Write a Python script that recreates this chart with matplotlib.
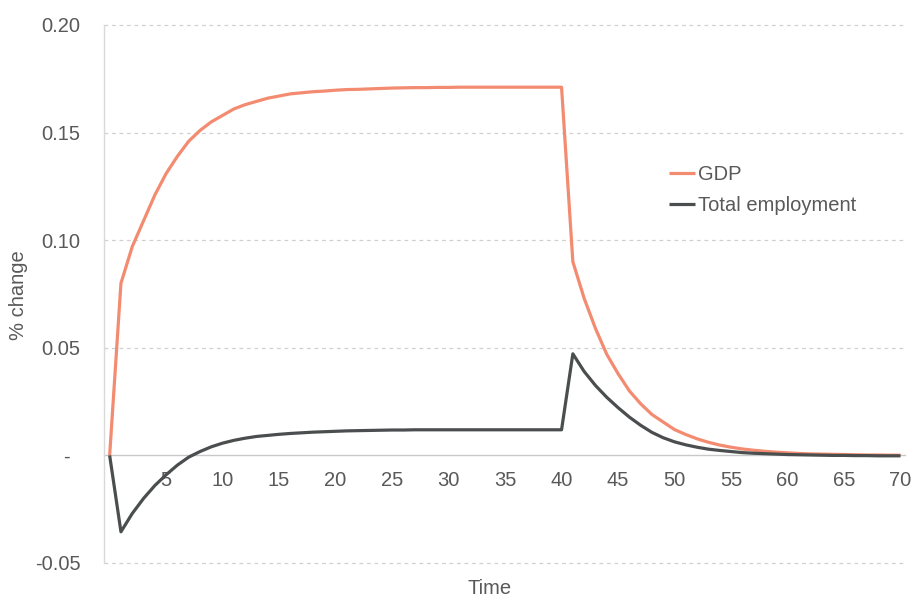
import matplotlib
matplotlib.use("Agg")
import matplotlib.pyplot as plt
import numpy as np

plt.rcParams['font.family'] = ['Liberation Sans', 'DejaVu Sans']

time = list(range(0, 71))

gdp = [0.0, 0.080, 0.097, 0.109, 0.121, 0.131, 0.139, 0.146, 0.151, 0.155,
       0.158, 0.161, 0.163, 0.1645, 0.166, 0.167, 0.168, 0.1685, 0.169, 0.1693,
       0.1697, 0.1700, 0.1701, 0.1703, 0.1705, 0.1707, 0.1708, 0.1709, 0.1709, 0.1710,
       0.1710, 0.1711, 0.1711, 0.1711, 0.1711, 0.1711, 0.1711, 0.1711, 0.1711, 0.1711,
       0.1711, 0.090, 0.073, 0.059, 0.047, 0.038, 0.030, 0.024, 0.019, 0.0155,
       0.012, 0.0097, 0.0077, 0.0061, 0.0048, 0.0038, 0.0030, 0.0024, 0.0019, 0.0015,
       0.0012, 0.0009, 0.0007, 0.0006, 0.0005, 0.0004, 0.0003, 0.0002, 0.0002, 0.0001,
       0.0001]

employment = [0.0, -0.0355, -0.027, -0.020, -0.014, -0.009, -0.0045, -0.0008, 0.0018, 0.0040,
              0.0057, 0.0070, 0.0080, 0.0088, 0.0093, 0.0098, 0.0102, 0.0105, 0.0108, 0.0110,
              0.0112, 0.0114, 0.0115, 0.0116, 0.0117, 0.0118, 0.0118, 0.0119, 0.0119, 0.0119,
              0.0119, 0.0119, 0.0119, 0.0119, 0.0119, 0.0119, 0.0119, 0.0119, 0.0119, 0.0119,
              0.0119, 0.0472, 0.0390, 0.0325, 0.0270, 0.0222, 0.0178, 0.0140, 0.0107, 0.0082,
              0.0063, 0.0049, 0.0038, 0.0029, 0.0023, 0.0018, 0.0013, 0.0010, 0.0008, 0.0006,
              0.0004, 0.0003, 0.0002, 0.0001, 0.0000, 0.0000, -0.0001, -0.0001, -0.0002, -0.0002,
              -0.0002]

y_ticks = [-0.05, 0.0, 0.05, 0.10, 0.15, 0.20]
y_labels = ['-0.05', '', '0.05', '0.10', '0.15', '0.20']
x_ticks = [5, 10, 15, 20, 25, 30, 35, 40, 45, 50, 55, 60, 65, 70]

text_color = '#595959'
fs = 14.5

fig = plt.figure(figsize=(9.12, 5.97), dpi=100)
ax = fig.add_axes([104/912, 1-563/597, (905-104)/912, (563-25)/597])

ax.set_xlim(-0.5, 70.4)
ax.set_ylim(-0.05, 0.20)

# gridlines (dashed)
for yv in [-0.05, 0.05, 0.10, 0.15, 0.20]:
    ax.axhline(yv, color='#D0D0D0', lw=0.9, ls=(0, (3, 3)), zorder=0, clip_on=False)

ax.plot(time, gdp, color='#F38B70', lw=2.3, label='GDP', zorder=3,
        solid_joinstyle='round', solid_capstyle='butt')
ax.plot(time, employment, color='#4B4E4F', lw=2.3, label='Total employment', zorder=4,
        solid_joinstyle='round', solid_capstyle='butt')

for s in ['top', 'right']:
    ax.spines[s].set_visible(False)
ax.spines['left'].set_color('#D9D9D9')
ax.spines['left'].set_linewidth(1.0)
ax.spines['bottom'].set_position(('data', 0))
ax.spines['bottom'].set_color('#C8C8C8')
ax.spines['bottom'].set_linewidth(1.0)
ax.spines['bottom'].set_zorder(1)

ax.set_xticks(x_ticks)
ax.set_xticklabels([str(v) for v in x_ticks])
ax.set_yticks(y_ticks)
ax.set_yticklabels(y_labels)
ax.tick_params(axis='x', length=0, pad=11.5, labelsize=fs, labelcolor=text_color)
ax.tick_params(axis='y', length=0, pad=17, labelsize=fs, labelcolor=text_color)

ax.annotate('-', xy=(0, 0), xycoords=('axes fraction', 'data'),
            xytext=(-25, 0), textcoords='offset points', ha='right', va='center_baseline',
            fontsize=fs, color=text_color)

fig.text(18.5/912, 1-295/597, '% change', rotation=90, ha='center', va='center',
         fontsize=fs, color=text_color)
fig.text(490/912, 1-589/597, 'Time', ha='center', va='center',
         fontsize=fs, color=text_color)

leg = ax.legend(loc='upper left', bbox_to_anchor=(669/912, 1-165/597),
                bbox_transform=fig.transFigure, frameon=False, fontsize=fs,
                handlelength=1.3, handletextpad=0.15, borderpad=0, borderaxespad=0,
                labelspacing=0.62)
for t in leg.get_texts():
    t.set_color(text_color)

fig.savefig('out.png', dpi=100)
